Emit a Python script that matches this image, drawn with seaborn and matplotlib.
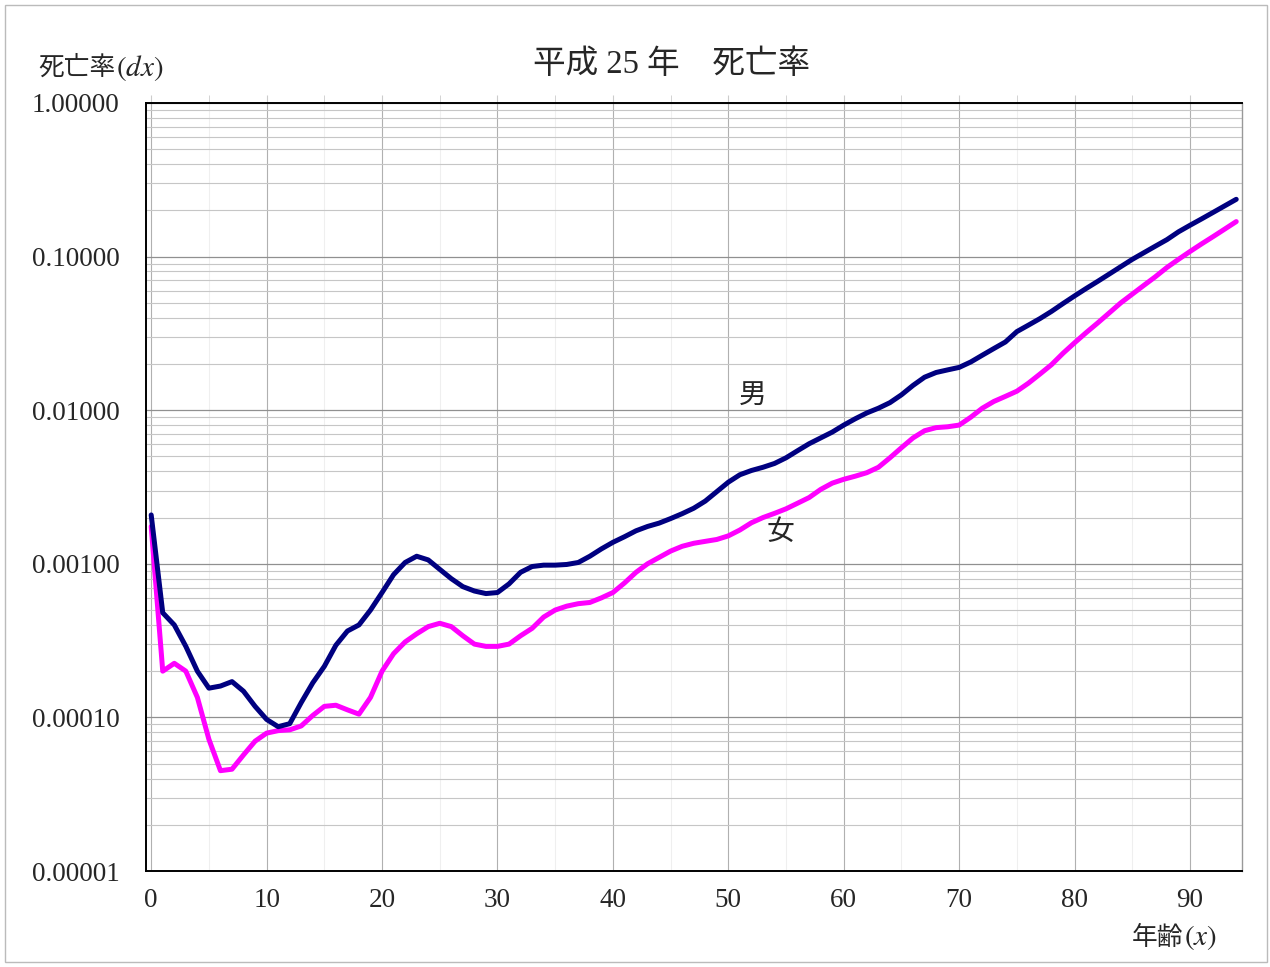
import numpy as np
import pandas as pd
import matplotlib
matplotlib.use("Agg")
import matplotlib.pyplot as plt
import seaborn as sns
from matplotlib.ticker import FixedLocator, LogLocator, NullFormatter, FuncFormatter

# ======================================================
# DATA
# ======================================================

ages = list(range(0, 95))

male_dx = [
    0.00208, 0.00048, 0.00040, 0.00029, 0.00020, 0.000155, 0.000160, 0.000171, 0.000148, 0.000118,
    0.000097, 0.000087, 0.000091, 0.000125, 0.000168, 0.000215, 0.000295, 0.000365, 0.00040, 0.00050,
    0.00065, 0.00085, 0.00102, 0.00112, 0.00106, 0.00092, 0.00080, 0.00071, 0.000665, 0.00064,
    0.00065, 0.00074, 0.00088, 0.00096, 0.00098, 0.00098, 0.00099, 0.00102, 0.00112, 0.00125,
    0.00138, 0.00150, 0.00164, 0.00175, 0.00184, 0.00197, 0.00212, 0.00230, 0.00256, 0.00295,
    0.00340, 0.00380, 0.00405, 0.00425, 0.00450, 0.00490, 0.00545, 0.00605, 0.00660, 0.00720,
    0.00800, 0.00880, 0.00960, 0.01030, 0.01120, 0.01260, 0.01450, 0.01640, 0.01760, 0.01830,
    0.01900, 0.02060, 0.02280, 0.02520, 0.02780, 0.03250, 0.03580, 0.03950, 0.04400, 0.04950,
    0.05550, 0.06200, 0.06900, 0.07700, 0.08600, 0.09600, 0.10600, 0.11700, 0.12900, 0.14500,
    0.16000, 0.17600, 0.19400, 0.21400, 0.23600,
]

female_dx = [
    0.00175, 0.00020, 0.000225, 0.000200, 0.000135, 0.000072, 0.000045, 0.000046, 0.000057, 0.000070,
    0.000079, 0.000082, 0.000083, 0.000088, 0.000103, 0.000118, 0.000120, 0.000112, 0.000105, 0.000135,
    0.00020, 0.00026, 0.00031, 0.00035, 0.00039, 0.00041, 0.00039, 0.00034, 0.00030, 0.00029,
    0.00029, 0.00030, 0.00034, 0.00038, 0.00045, 0.00050, 0.00053, 0.00055, 0.00056, 0.00060,
    0.00065, 0.00075, 0.00088, 0.00100, 0.00110, 0.00121, 0.00130, 0.00136, 0.00140, 0.00144,
    0.00152, 0.00166, 0.00185, 0.00200, 0.00213, 0.00228, 0.00248, 0.00270, 0.00305, 0.00335,
    0.00355, 0.00372, 0.00392, 0.00425, 0.00490, 0.00570, 0.00660, 0.00735, 0.00770, 0.00780,
    0.00800, 0.00900, 0.01030, 0.01140, 0.01230, 0.01330, 0.01500, 0.01720, 0.01980, 0.02350,
    0.02750, 0.03200, 0.03700, 0.04300, 0.05000, 0.05700, 0.06500, 0.07400, 0.08500, 0.09600,
    0.10800, 0.12100, 0.13500, 0.15100, 0.16900,
]

x_ticks = [0, 10, 20, 30, 40, 50, 60, 70, 80, 90]
y_ticks = [0.00001, 0.0001, 0.001, 0.01, 0.1, 1.0]

title_text = "平成 25 年　死亡率"
y_label_cjk = "死亡率"
y_label_sym = "$(dx)$"
x_label_cjk = "年齢"
x_label_sym = "$(x)$"
male_label = "男"
female_label = "女"

# ======================================================
# STYLE
# ======================================================

sns.set_style("white")
plt.rcParams["font.family"] = ["Liberation Serif", "Noto Sans CJK JP", "DejaVu Sans"]
plt.rcParams["mathtext.fontset"] = "stix"

df = pd.DataFrame({"age": ages, "male": male_dx, "female": female_dx})

fig = plt.figure(figsize=(12.7, 9.67), dpi=100)
ax = fig.add_axes([146 / 1270, 1 - 871 / 967, (1242 - 146) / 1270, (871 - 103) / 967])

# ======================================================
# LINES
# ======================================================

sns.lineplot(data=df, x="age", y="male", ax=ax, color="#000080", linewidth=3.6,
             solid_capstyle="round", solid_joinstyle="round", zorder=5)
sns.lineplot(data=df, x="age", y="female", ax=ax, color="#FF00FF", linewidth=3.6,
             solid_capstyle="round", solid_joinstyle="round", zorder=4)

ax.set_yscale("log")
ax.set_ylim(0.00001, 1.0)
ax.set_xlim(-0.45, 94.5)

# ======================================================
# GRID / TICKS
# ======================================================

ax.yaxis.set_major_locator(FixedLocator(y_ticks))
ax.yaxis.set_major_formatter(FuncFormatter(lambda v, p: "%.5f" % v))
ax.yaxis.set_minor_locator(LogLocator(base=10, subs=np.arange(2, 10)))
ax.yaxis.set_minor_formatter(NullFormatter())

ax.xaxis.set_major_locator(FixedLocator(x_ticks))
ax.xaxis.set_minor_locator(FixedLocator(np.arange(5, 95, 10)))

ax.grid(True, which="major", axis="y", color="#909090", linewidth=0.9)
ax.grid(True, which="minor", axis="y", color="#c6c6c6", linewidth=0.8)
ax.grid(True, which="major", axis="x", color="#b0b0b0", linewidth=0.8)
ax.grid(True, which="minor", axis="x", color="#efefef", linewidth=0.8)

ax.tick_params(axis="y", which="major", length=0, pad=19, labelsize=19.5)
ax.tick_params(axis="y", which="minor", direction="in", length=5, color="#c8c8c8")
ax.tick_params(axis="x", which="both", length=6, direction="out", color="#cccccc",
               bottom=False, top=True, labelbottom=True, labeltop=False)
ax.tick_params(axis="x", which="major", pad=6, labelsize=19.5)

for side in ["left", "bottom", "top"]:
    ax.spines[side].set_color("black")
    ax.spines[side].set_linewidth(1.4)
ax.spines["right"].set_color("#999999")
ax.spines["right"].set_linewidth(1.0)

ax.set_xlabel("")
ax.set_ylabel("")

# ======================================================
# TEXTS
# ======================================================

fig.text(672 / 1270, 1 - 65 / 967, title_text, fontsize=23.5, ha="center", va="center")

fig.text(38 / 1270, 1 - 68 / 967, y_label_cjk, fontsize=18.5, ha="left", va="center",
         family=["Noto Sans CJK JP"])
fig.text(116 / 1270, 1 - 68 / 967, y_label_sym, fontsize=21, ha="left", va="center")

fig.text(1183 / 1270, 1 - 938 / 967, x_label_cjk, fontsize=18.5, ha="right", va="center",
         family=["Noto Sans CJK JP"])
fig.text(1184 / 1270, 1 - 938 / 967, x_label_sym, fontsize=21, ha="left", va="center")

ax.text(52.1, 0.0126, male_label, fontsize=20, ha="center", va="center",
        family=["Noto Sans CJK JP"])
ax.text(54.5, 0.00161, female_label, fontsize=20, ha="center", va="center",
        family=["Noto Sans CJK JP"])

# outer chart frame
fig.patches.append(plt.Rectangle((5 / 1270, 5 / 967), 1262 / 1270, 957 / 967,
                                 transform=fig.transFigure, fill=False,
                                 edgecolor="#bbbbbb", linewidth=1.0))

fig.savefig("out.png", dpi=100)
plt.close()
